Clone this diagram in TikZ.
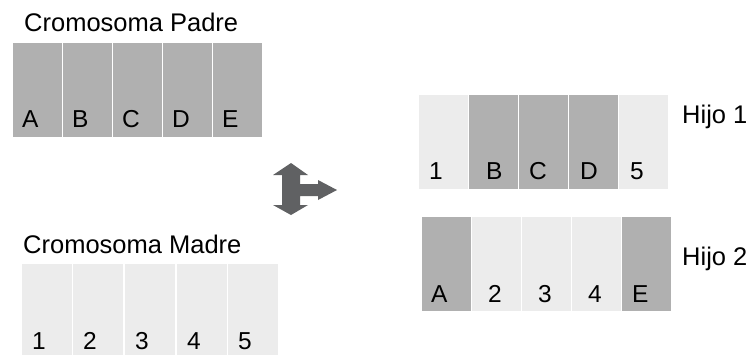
\documentclass[tikz,border=0pt]{standalone}
\usepackage{fontspec}
\setmainfont{Liberation Sans}
\definecolor{darkcell}{HTML}{B0B0B0}
\definecolor{lightcell}{HTML}{ECECEC}
\definecolor{arrowgray}{HTML}{606163}
\tikzset{
  cellbox/.style={draw=white, line width=1.2pt, minimum height=95pt, inner sep=0pt, anchor=north west},
  dcell/.style={cellbox, fill=darkcell, minimum width=50pt},
  lcell/.style={cellbox, fill=lightcell, minimum width=50pt},
  lbl/.style={anchor=base west, inner sep=0pt, font=\fontsize{24.5}{28}\selectfont},
  ttl/.style={anchor=base west, inner sep=0pt, font=\fontsize{25.5}{30}\selectfont},
}
\begin{document}
\begin{tikzpicture}[x=1pt,y=-1pt]
\useasboundingbox (0,0) rectangle (748,354);
\fill[white] (0,0) rectangle (748,354);
% Padre
\node[ttl] (tp) at (24,31) {Cromosoma Padre};
\foreach \i/\x/\t in {1/12/A,2/62/B,3/112/C,4/162/D,5/212/E}{
  \node[dcell] (p\i) at (\x,42) {};
  \node[lbl] (pl\i) at (\x+10,127) {\t};
}
% Madre
\node[ttl] (tm) at (23,253) {Cromosoma Madre};
\begin{scope}
\clip (0,0) rectangle (748,354);
\foreach \i/\x/\t in {1/21/1,2/72/2,3/124/3,4/176/4,5/227/5}{
  \node[lcell, minimum width=51pt] (m\i) at (\x,263) {};
  \node[lbl] (ml\i) at (\x+11,349) {\t};
}
\end{scope}
% Arrow
\fill[arrowgray] (291,163) -- (308,175) -- (300,175) -- (300,184) -- (318,184) -- (318,180)
  -- (337,190) -- (318,200) -- (318,196) -- (300,196) -- (300,205) -- (308,205)
  -- (291,215) -- (273,205) -- (282,205) -- (282,175) -- (273,175) -- cycle;
% Hijo 1
\node[lcell] (a1) at (418,94) {};
\node[dcell] (a2) at (468,94) {};
\node[dcell] (a3) at (518,94) {};
\node[dcell] (a4) at (568,94) {};
\node[lcell] (a5) at (618,94) {};
\node[lbl] at (429,179) {1};
\node[lbl] at (486,179) {B};
\node[lbl] at (529,179) {C};
\node[lbl] at (580,179) {D};
\node[lbl] at (630,179) {5};
\node[ttl] (h1) at (682,123) {Hijo 1};
% Hijo 2
\node[dcell] (b1) at (421,216) {};
\node[lcell] (b2) at (471,216) {};
\node[lcell] (b3) at (521,216) {};
\node[lcell] (b4) at (571,216) {};
\node[dcell] (b5) at (621,216) {};
\node[lbl] at (431,302) {A};
\node[lbl] at (488,302) {2};
\node[lbl] at (538,302) {3};
\node[lbl] at (588,302) {4};
\node[lbl] at (632,302) {E};
\node[ttl] (h2) at (682,265) {Hijo 2};
\end{tikzpicture}
\end{document}
